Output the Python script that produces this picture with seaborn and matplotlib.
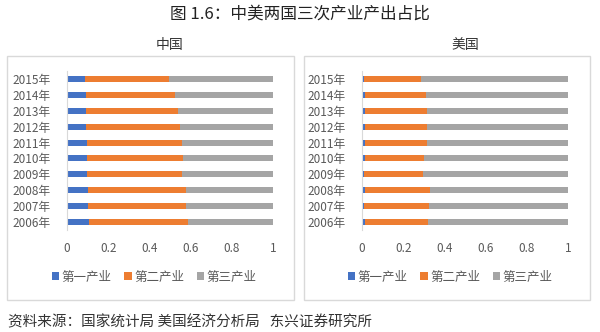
import matplotlib
matplotlib.use("Agg")
import matplotlib.pyplot as plt
from matplotlib.patches import Rectangle, Patch
import seaborn as sns
import pandas as pd

years = ["2015年", "2014年", "2013年", "2012年", "2011年", "2010年", "2009年", "2008年", "2007年", "2006年"]
cn_primary = [0.089, 0.091, 0.092, 0.094, 0.095, 0.096, 0.099, 0.102, 0.102, 0.105]
cn_secondary = [0.408, 0.434, 0.445, 0.455, 0.463, 0.466, 0.461, 0.474, 0.474, 0.480]
us_primary = [0.012, 0.013, 0.014, 0.013, 0.014, 0.013, 0.012, 0.013, 0.012, 0.013]
us_secondary = [0.273, 0.297, 0.302, 0.302, 0.301, 0.290, 0.286, 0.316, 0.314, 0.308]
legend_labels = ["第一产业", "第二产业", "第三产业"]
colors = ["#4472C4", "#ED7D31", "#A5A5A5"]
xticks = [0, 0.2, 0.4, 0.6, 0.8, 1]
xticklabels = ["0", "0.2", "0.4", "0.6", "0.8", "1"]

sns.set_theme(style="white")
plt.rcParams["font.family"] = ["Noto Sans CJK SC", "DejaVu Sans"]

fig = plt.figure(figsize=(6, 3.32), dpi=100)

W, H = 600, 332
def fx(px):
    return px / W
def fy(py):
    return 1 - py / H

# panel boxes
for x0, x1 in [(7, 294), (304, 590)]:
    fig.patches.append(Rectangle((fx(x0), fy(300)), fx(x1 - x0), (300 - 56) / H,
                                 transform=fig.transFigure, fill=False,
                                 edgecolor="#D9D9D9", linewidth=1.0))

panels = [
    ("中国", cn_primary, cn_secondary, 67, 154),
    ("美国", us_primary, us_secondary, 362, 450),
]

for title, prim, sec, ax_left, leg_x in panels:
    ax = fig.add_axes([fx(ax_left), fy(230), 206 / W, (230 - 71) / H])
    cum2 = [p + s for p, s in zip(prim, sec)]
    df = pd.DataFrame({"year": years, "total": [1.0] * len(years),
                       "cum2": cum2, "prim": prim})
    sns.barplot(data=df, x="total", y="year", color=colors[2], width=0.38,
                ax=ax, orient="h", saturation=1, linewidth=0)
    sns.barplot(data=df, x="cum2", y="year", color=colors[1], width=0.38,
                ax=ax, orient="h", saturation=1, linewidth=0)
    sns.barplot(data=df, x="prim", y="year", color=colors[0], width=0.38,
                ax=ax, orient="h", saturation=1, linewidth=0)
    ax.set_xlim(0, 1)
    ax.set_ylim(9.5, -0.5)
    ax.set_xlabel("")
    ax.set_ylabel("")
    ax.set_xticks(xticks)
    ax.set_xticklabels(xticklabels)
    for s in ["top", "right", "bottom"]:
        ax.spines[s].set_visible(False)
    ax.spines["left"].set_color("#D9D9D9")
    ax.spines["left"].set_linewidth(0.8)
    ax.tick_params(axis="both", length=0, colors="#595959", labelsize=8.5)
    ax.tick_params(axis="y", pad=12)
    ax.tick_params(axis="x", pad=9)
    ax.set_facecolor("none")
    fig.text(fx(ax_left + 103), fy(45), title, ha="center", va="center",
             fontsize=10, color="#333333")
    handles = [Patch(facecolor=c, edgecolor="none") for c in colors]
    fig.legend(handles, legend_labels, loc="center", bbox_to_anchor=(fx(leg_x), fy(277)),
               ncol=3, frameon=False, fontsize=9, handlelength=0.6, handleheight=0.6,
               handletextpad=0.2, columnspacing=1.0, labelcolor="#595959")

fig.text(0.5, fy(14), "图 1.6：中美两国三次产业产出占比", ha="center", va="center",
         fontsize=12, color="#222222", fontweight="medium")
fig.text(fx(8), fy(322), "资料来源：国家统计局 美国经济分析局   东兴证券研究所", ha="left",
         va="center", fontsize=10.5, color="#333333", style="italic")

fig.savefig("out.png", dpi=100)
